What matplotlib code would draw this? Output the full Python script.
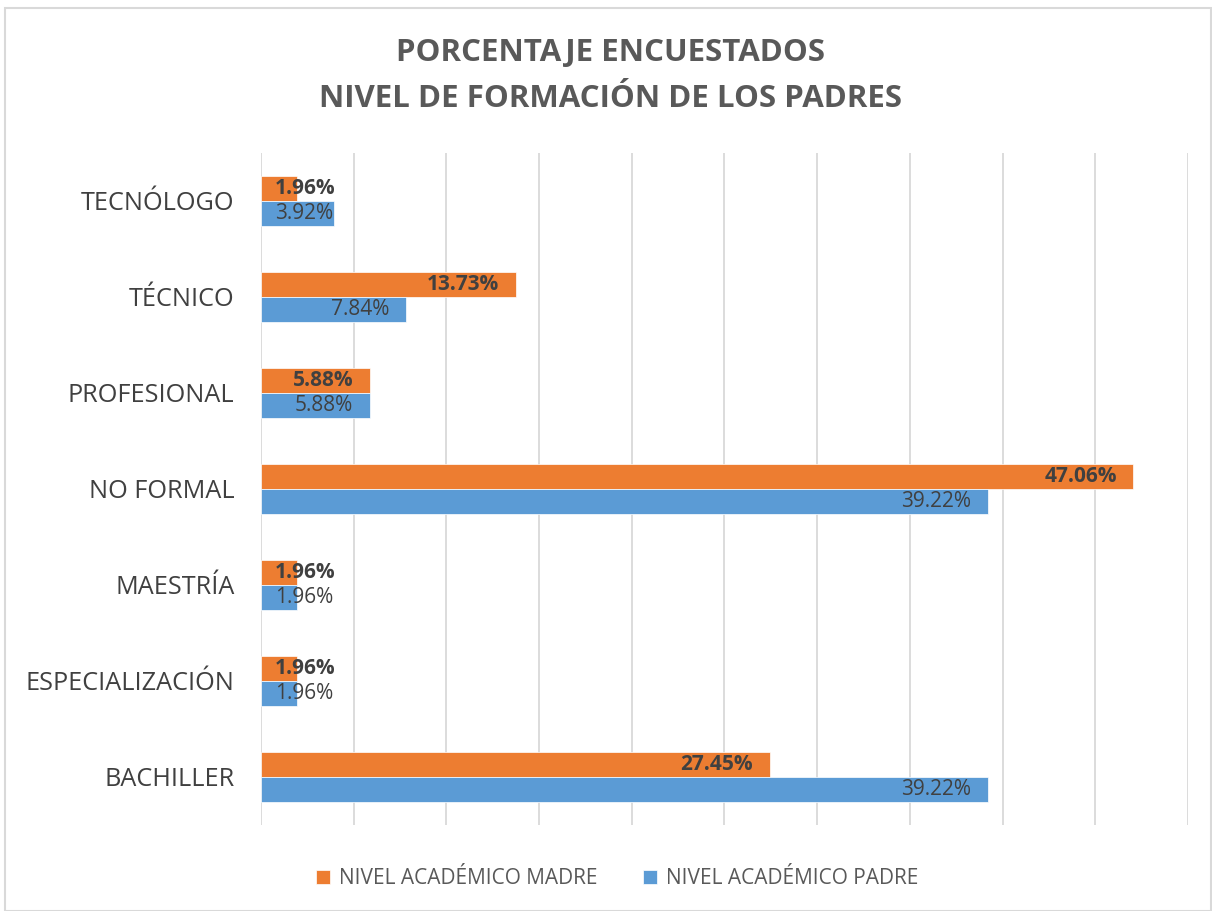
import matplotlib.pyplot as plt
import numpy as np
from matplotlib.patches import Rectangle

categories = ["BACHILLER", "ESPECIALIZACIÓN", "MAESTRÍA", "NO FORMAL",
              "PROFESIONAL", "TÉCNICO", "TECNÓLOGO"]
madre = [27.45, 1.96, 1.96, 47.06, 5.88, 13.73, 1.96]
padre = [39.22, 1.96, 1.96, 39.22, 5.88, 7.84, 3.92]
series_names = ["NIVEL ACADÉMICO MADRE", "NIVEL ACADÉMICO PADRE"]

plt.rcParams['font.family'] = ['Open Sans', 'DejaVu Sans']

orange = "#ED7D31"
blue = "#5B9BD5"
txt = "#404040"

fig = plt.figure(figsize=(12.12, 9.11), dpi=100)
fig.patches.append(Rectangle((0.004, 0.0), 0.995, 0.991, transform=fig.transFigure,
                             fill=False, edgecolor="#D9D9D9", lw=1.5))
ax = fig.add_axes([0.2153, 0.0944, 0.7649, 0.7377])

y = np.arange(len(categories))
h = 0.26
ax.barh(y + h / 2, madre, height=h, color=orange, edgecolor="white", lw=0.5,
        label=series_names[0], zorder=2)
ax.barh(y - h / 2, padre, height=h, color=blue, edgecolor="white", lw=0.5,
        label=series_names[1], zorder=2)

def put_labels(vals, offs, weight):
    for yi, v in zip(y, vals):
        s = "%.2f%%" % v
        if v < 5:
            ax.text(0.75, yi + offs, s, ha="left", va="center", fontsize=15,
                    color=txt, fontweight=weight, zorder=3)
        else:
            ax.text(v - 0.9, yi + offs, s, ha="right", va="center", fontsize=15,
                    color=txt, fontweight=weight, zorder=3)

put_labels(madre, h / 2, "bold")
put_labels(padre, -h / 2, "normal")

ax.set_xlim(0, 50)
ax.set_ylim(-0.5, 6.5)
ax.set_xticks(np.arange(0, 51, 5))
ax.set_xticklabels([])
ax.set_yticks(y)
ax.set_yticklabels(categories, fontsize=18.2, color="#404040")
ax.tick_params(axis="both", length=0, pad=19)
ax.grid(axis="x", color="#D9D9D9", lw=1.3, zorder=0)
for sp in ax.spines.values():
    sp.set_visible(False)

fig.text(0.504, 0.942, "PORCENTAJE ENCUESTADOS", ha="center", va="center",
         fontsize=22.5, fontweight="bold", color="#595959")
fig.text(0.504, 0.891, "NIVEL DE FORMACIÓN DE LOS PADRES", ha="center", va="center",
         fontsize=22.5, fontweight="bold", color="#595959")

ax.legend(loc="center", bbox_to_anchor=(0.384, -0.08), ncol=2, frameon=False,
          fontsize=15, handlelength=0.7, handleheight=0.7, columnspacing=2.2,
          labelcolor="#595959", handletextpad=0.4)

fig.savefig("out.png", dpi=100)
